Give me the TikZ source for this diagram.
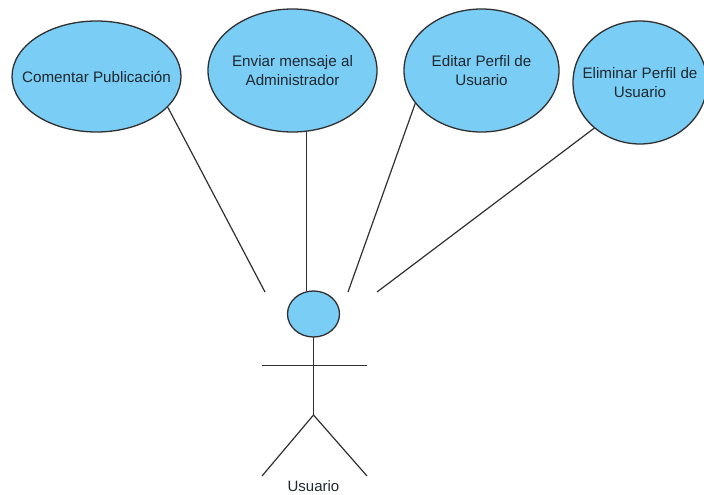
\documentclass[tikz,border=0pt]{standalone}
\usepackage{fontspec}
\setmainfont{Liberation Sans}
\usetikzlibrary{shapes.geometric}
\definecolor{ucfill}{HTML}{7ACDF4}
\definecolor{ucline}{HTML}{303030}
\definecolor{uctext}{HTML}{202830}
\tikzset{
  usecase/.style={ellipse,draw=ucline,fill=ucfill,line width=1.3pt,inner sep=-22pt,outer sep=0pt,
    minimum width=#1,align=center,text=uctext,font=\fontsize{15.2}{19}\selectfont},
  link/.style={draw=ucline,line width=1.2pt},
  limb/.style={draw=ucline,line width=1.2pt}
}
\begin{document}
\begin{tikzpicture}[x=1pt,y=-1pt]
\useasboundingbox (0,0) rectangle (704,495);
\clip (0,0) rectangle (704,495);
\node[usecase=169pt,minimum height=111pt] (c1) at (96.5,76.5) {Comentar Publicación};
\node[usecase=169pt,minimum height=123pt] (c2) at (292.5,70.5) {Enviar mensaje al\\Administrador};
\node[usecase=155pt,minimum height=123pt] (c3) at (481.5,70.5) {Editar Perfil de\\Usuario};
\node[usecase=134pt,minimum height=123pt] (c4) at (640,82.5) {Eliminar Perfil de\\Usuario};
\node[ellipse,draw=ucline,fill=ucfill,line width=1.3pt,inner sep=0pt,outer sep=0pt,minimum width=52pt,minimum height=46pt] (head) at (313.5,314) {};
\coordinate (hip) at (313.5,415);
\coordinate (armL) at (262,365.5);
\coordinate (armR) at (367,365.5);
\coordinate (legL) at (262,476);
\coordinate (legR) at (367,476);
\coordinate (e1) at (265,292);
\coordinate (e3) at (348,292);
\coordinate (e4) at (377,292);
\draw[limb] (head.south) -- (hip);
\draw[limb] (armL) -- (armR);
\draw[limb] (legL) -- (hip) -- (legR);
\node[text=uctext,font=\fontsize{15}{17}\selectfont,inner sep=0pt] (lab) at (313.5,486) {Usuario};
\draw[link] (c1.-23) -- (e1);
\draw[link] (c2.-77) -- (c2.-77 |- head.north);
\draw[link] (c3.206) -- (e3);
\draw[link] (c4.225) -- (e4);
\end{tikzpicture}
\end{document}
